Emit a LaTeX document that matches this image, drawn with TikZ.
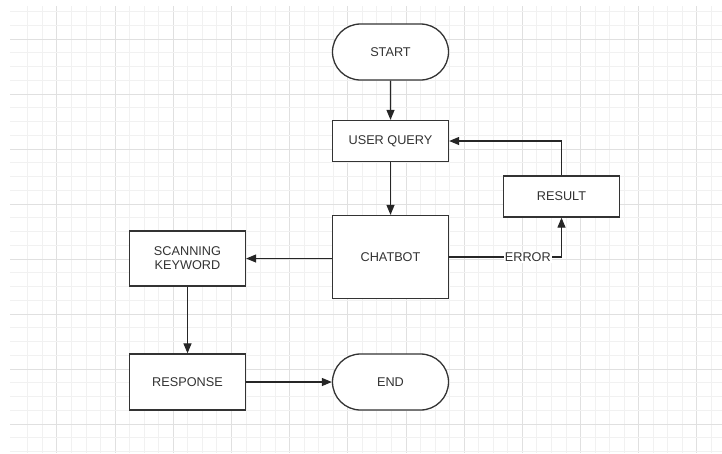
\documentclass[tikz,border=0pt]{standalone}
\usepackage{fontspec}
\setmainfont{Liberation Sans}
\usetikzlibrary{arrows.meta,shapes.misc,positioning}

\begin{document}
\begin{tikzpicture}[x=1pt,y=-1pt,
        box/.style={draw=black!80, line width=1.3pt, fill=white, minimum width=116pt,
            text=black!80, font=\fontsize{12.7}{14}\selectfont, align=center, inner sep=0pt},
        term/.style={box, rounded rectangle},
        tag/.style={fill=white, inner sep=1pt, text=black!80, font=\fontsize{12.7}{14}\selectfont},
        flow/.style={-{Triangle[length=10pt,width=8pt]}, line width=1.2pt, draw=black!85}]
        \useasboundingbox (0,0) rectangle (722,453);
        % grid paper, a heavier line every fourth one
        \foreach \k in {0,...,47} {
            \pgfmathtruncatemacro{\major}{mod(\k,4)==2}
            \ifnum\major=1 \draw[gray!24, line width=1pt] (27.9+14.545*\k,6) -- ++(0,447); \else \draw[gray!11, line width=1pt] (27.9+14.545*\k,6) -- ++(0,447); \fi
        }
        \foreach \k in {0,...,32} {
            \pgfmathtruncatemacro{\major}{mod(\k,4)==2}
            \ifnum\major=1 \draw[gray!24, line width=1pt] (10,11.5+13.75*\k) -- ++(712,0); \else \draw[gray!11, line width=1pt] (10,11.5+13.75*\k) -- ++(712,0); \fi
        }
        % steps
        \node[term, minimum height=56pt] (start) at (390.5,52) {START};
        \node[box, minimum height=41pt] (query) at (390.5,141) {USER QUERY};
        \node[box, minimum height=83pt] (chatbot) at (390.5,257) {CHATBOT};
        \node[box, minimum height=41pt] (result) at (561.5,196.5) {RESULT};
        \node[box, minimum height=55pt] (scan) at (187.5,258.5) {SCANNING\\KEYWORD};
        \node[box, minimum height=56pt] (response) at (187.5,382) {RESPONSE};
        \node[term, minimum height=56pt] (end) at (390.5,382) {END};
        % connectors
        \draw[flow] (start) -- (query);
        \draw[flow] (query) -- (chatbot);
        \draw[flow] (chatbot.west |- scan.east) -- (scan.east);
        \draw[flow] (scan) -- (response);
        \draw[flow] (response) -- (end);
        \draw[flow] (chatbot.east) -| node[tag, pos=0.35] (error) {ERROR} (result.south);
        \draw[flow] (result.north) |- (query.east);
    \end{tikzpicture}
\end{document}
